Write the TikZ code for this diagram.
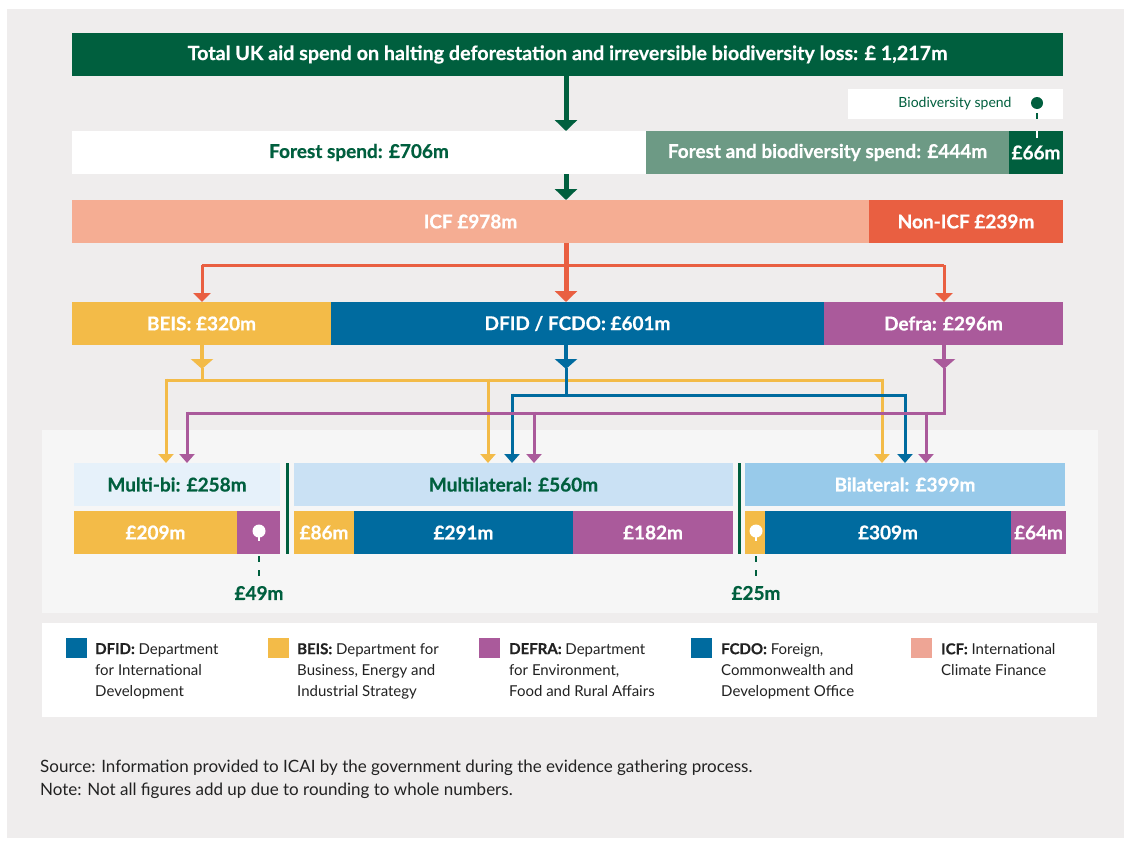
\documentclass[tikz,border=0pt]{standalone}
\usepackage{fontspec}
\setmainfont{Lato}[BoldFeatures={FakeBold=0.6}]
\usetikzlibrary{arrows.meta}

\definecolor{dkgreen}{HTML}{005F3E}
\definecolor{midgreen}{HTML}{6D9A85}
\definecolor{icfpink}{HTML}{F5AD93}
\definecolor{noniconred}{HTML}{E95F41}
\definecolor{beisyel}{HTML}{F3BB48}
\definecolor{dfidblue}{HTML}{006B9F}
\definecolor{defrapur}{HTML}{AA5A9B}
\definecolor{mbhead}{HTML}{E6F1FA}
\definecolor{mlhead}{HTML}{CAE1F4}
\definecolor{blhead}{HTML}{98CAEA}
\definecolor{outergray}{HTML}{EFEDED}
\definecolor{innergray}{HTML}{F6F6F6}
\definecolor{legicf}{HTML}{EEA595}
\definecolor{bodytext}{HTML}{222222}

\tikzset{
  bar/.style={anchor=north west, inner sep=0pt, outer sep=0pt,
    font=\fontsize{19}{22}\selectfont\bfseries, text=white},
  bigtip/.style={-{Triangle[width=22pt,length=11pt]}, line width=5pt},
  midtip/.style={-{Triangle[width=17pt,length=9pt]}, line width=3pt},
  smalltip/.style={-{Triangle[width=15pt,length=9pt]}, line width=3pt},
  wire/.style={line width=3pt},
  stem/.style={line width=4.5pt},
  legsq/.style={anchor=north west, inner sep=0pt, minimum width=21pt, minimum height=20pt},
  legtext/.style={anchor=north west, inner sep=0pt, align=left, text=bodytext,
    font=\fontsize{15}{21}\selectfont},
  pinlabel/.style={font=\fontsize{19}{22}\selectfont\bfseries, text=dkgreen},
  pinline/.style={line width=2.5pt, dash pattern=on 6pt off 8pt},
}

\begin{document}
\begin{tikzpicture}[x=1pt,y=-1pt]
\useasboundingbox (0,0) rectangle (1124,841);
\fill[white] (0,0) rectangle (1124,841);
\fill[outergray] (7,9) rectangle (1124,838);
\fill[innergray] (42,430) rectangle (1098,613);

% ---- top rows ----
\node[bar, fill=dkgreen, minimum width=991pt, minimum height=43pt,
  font=\fontsize{19.7}{22}\selectfont\bfseries] (total) at (72,33)
  {Total UK aid spend on halting deforestation and irreversible biodiversity loss: £ 1,217m};

\node[anchor=north west, inner sep=0pt, fill=white, minimum width=215pt, minimum height=30pt] (biobox) at (848,89) {};
\node[text=dkgreen, font=\fontsize{14}{16}\selectfont, inner sep=0pt] (biolabel) at (955,104) {Biodiversity spend};
\node[circle, fill=dkgreen, inner sep=0pt, minimum size=12pt] (biodot) at (1037,103) {};

\node[bar, fill=white, text=dkgreen, minimum width=574pt, minimum height=43pt] (forest) at (72,131) {Forest spend: £706m};
\node[bar, fill=midgreen, minimum width=363pt, minimum height=43pt] (fab) at (646,131) {Forest and biodiversity spend: £444m};
\node[bar, fill=dkgreen, minimum width=54pt, minimum height=43pt] (bio66) at (1009,131) {£66m};

\draw[dkgreen, line width=2.5pt] (biodot.south) ++(0,4) -- ++(0,3);
\draw[dkgreen, line width=2.5pt] (biodot.center |- biobox.south) ++(0,-3) -- (biodot.center |- biobox.south);
\draw[white, line width=2.5pt] (bio66.north -| biodot.center) -- ++(0,7);

\node[bar, fill=icfpink, minimum width=797pt, minimum height=43pt] (icf) at (72,200) {ICF £978m};
\node[bar, fill=noniconred, minimum width=194pt, minimum height=43pt] (nonicf) at (869,200) {Non-ICF £239m};

\node[bar, fill=beisyel, minimum width=259pt, minimum height=43pt] (beis) at (72,302) {BEIS: £320m};
\node[bar, fill=dfidblue, minimum width=493pt, minimum height=43pt] (dfid) at (331,302) {DFID / FCDO: £601m};
\node[bar, fill=defrapur, minimum width=239pt, minimum height=43pt] (defra) at (824,302) {Defra: £296m};

% main flow column
\coordinate (flow) at (566,0);
\coordinate (beisx) at (202,0);
\coordinate (defrax) at (944,0);

\draw[bigtip, dkgreen] (total.south -| flow) -- (forest.north -| flow);
\draw[bigtip, dkgreen] (forest.south -| flow) -- (icf.north -| flow);

% ICF split
\coordinate (redbus) at (0,265);
\draw[wire, noniconred] (redbus -| beisx) -- (redbus -| defrax);
\draw[midtip, noniconred] (redbus -| beisx) -- (beis.north -| beisx);
\draw[midtip, noniconred] (redbus -| defrax) -- (defra.north -| defrax);
\draw[bigtip, noniconred] (icf.south -| flow) -- (dfid.north -| flow);

% ---- bottom bars ----
\node[bar, fill=mbhead, text=dkgreen, minimum width=206pt, minimum height=43pt] (mbhead) at (74,463) {Multi-bi: £258m};
\node[bar, fill=beisyel, minimum width=163pt, minimum height=43pt] (mb1) at (74,511) {£209m};
\node[bar, fill=defrapur, minimum width=43pt, minimum height=43pt] (mb2) at (237,511) {};

\node[bar, fill=mlhead, text=dkgreen, minimum width=439pt, minimum height=43pt] (mlhead) at (294,463) {Multilateral: £560m};
\node[bar, fill=beisyel, minimum width=60pt, minimum height=43pt] (ml1) at (294,511) {£86m};
\node[bar, fill=dfidblue, minimum width=219pt, minimum height=43pt] (ml2) at (354,511) {£291m};
\node[bar, fill=defrapur, minimum width=160pt, minimum height=43pt] (ml3) at (573,511) {£182m};

\node[bar, fill=blhead, minimum width=320pt, minimum height=43pt] (blhead) at (745,463) {Bilateral: £399m};
\node[bar, fill=beisyel, minimum width=20pt, minimum height=43pt] (bl1) at (745,511) {};
\node[bar, fill=dfidblue, minimum width=246pt, minimum height=43pt] (bl2) at (765,511) {£309m};
\node[bar, fill=defrapur, minimum width=55pt, minimum height=43pt] (bl3) at (1011,511) {£64m};

% dividers between the three channels
\draw[dkgreen, line width=3pt] (287,463) -- (287,554);
\draw[dkgreen, line width=3pt] (739,463) -- (739,554);

% ---- department to channel connectors ----
% BEIS (yellow)
\coordinate (ybus) at (0,380);
\draw[stem, beisyel, -{Triangle[width=22pt,length=10pt]}] (beis.south -| beisx) -- (beisx |- 0,369);
\draw[wire, beisyel] (beisx |- 0,368) -- (ybus -| beisx);
\draw[wire, beisyel] (166,380) -- (882,380);
\draw[smalltip, beisyel] (166,378.5) -- (mbhead.north -| 166,0);
\draw[smalltip, beisyel] (488,378.5) -- (mlhead.north -| 488,0);
\draw[smalltip, beisyel] (882,378.5) -- (blhead.north -| 882,0);

% DFID / FCDO (blue)
\draw[stem, dfidblue, -{Triangle[width=22pt,length=10pt]}] (dfid.south -| flow) -- (flow |- 0,369);
\draw[wire, dfidblue] (flow |- 0,368) -- (flow |- 0,395);
\draw[wire, dfidblue] (512,395) -- (905,395);
\draw[smalltip, dfidblue] (512,393.5) -- (mlhead.north -| 512,0);
\draw[smalltip, dfidblue] (905,393.5) -- (blhead.north -| 905,0);

% Defra (purple)
\draw[stem, defrapur, -{Triangle[width=22pt,length=10pt]}] (defra.south -| defrax) -- (defrax |- 0,369);
\draw[wire, defrapur] (defrax |- 0,368) -- (defrax |- 0,413);
\draw[wire, defrapur] (187,413) -- (945.5,413);
\draw[smalltip, defrapur] (187,411.5) -- (mbhead.north -| 187,0);
\draw[smalltip, defrapur] (534,411.5) -- (mlhead.north -| 534,0);
\draw[smalltip, defrapur] (926,411.5) -- (blhead.north -| 926,0);

% ---- biodiversity pins ----
\node[circle, fill=white, inner sep=0pt, minimum size=13pt] (pinA) at (259,531) {};
\draw[white, line width=2.5pt] (pinA.center) -- ++(0,10);
\node[pinlabel] (lab49) at (259,593) {£49m};
\draw[dkgreen, pinline] (mb2.south -| pinA) ++(0,2) -- (lab49.north);

\node[circle, fill=white, inner sep=0pt, minimum size=13pt] (pinB) at (756,531) {};
\draw[white, line width=2.5pt] (pinB.center) -- ++(0,10);
\node[pinlabel] (lab25) at (756,593) {£25m};
\draw[dkgreen, pinline] (bl1.south -| pinB) ++(0,2) -- (lab25.north);

% ---- legend ----
\fill[white] (42,623) rectangle (1097,717);
\node[legsq, fill=dfidblue] (sq1) at (66,638) {};
\node[legtext] (lt1) at (95,643) {\textbf{DFID:} Department\\for International\\Development};
\node[legsq, fill=beisyel] (sq2) at (268,638) {};
\node[legtext] (lt2) at (297,643) {\textbf{BEIS:} Department for\\Business, Energy and\\Industrial Strategy};
\node[legsq, fill=defrapur] (sq3) at (479,638) {};
\node[legtext] (lt3) at (509,643) {\textbf{DEFRA:} Department\\for Environment,\\Food and Rural Affairs};
\node[legsq, fill=dfidblue] (sq4) at (691,638) {};
\node[legtext] (lt4) at (721,643) {\textbf{FCDO:} Foreign,\\Commonwealth and\\Development Office};
\node[legsq, fill=legicf] (sq5) at (911,638) {};
\node[legtext] (lt5) at (941,643) {\textbf{ICF:} International\\Climate Finance};

% ---- source note ----
\node[anchor=north west, inner sep=0pt, align=left, text=bodytext,
  font=\fontsize{17}{23}\selectfont] (note) at (40,760)
  {Source: Information provided to ICAI by the government during the evidence gathering process.\\
   Note: Not all figures add up due to rounding to whole numbers.};
\end{tikzpicture}
\end{document}
